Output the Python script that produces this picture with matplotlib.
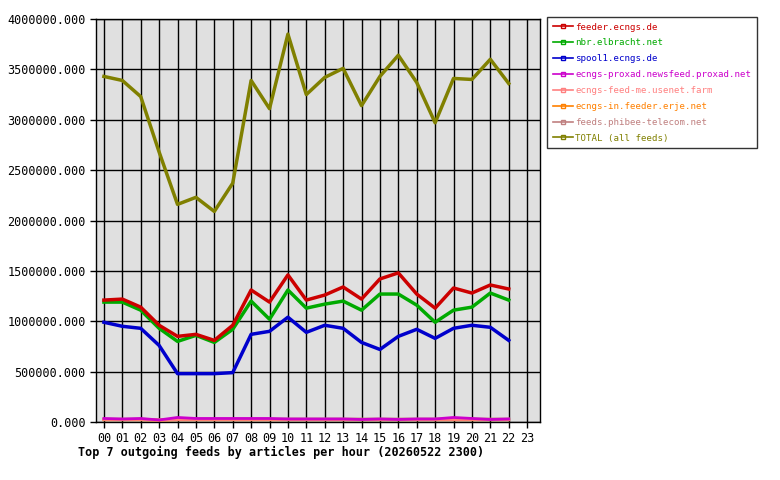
import matplotlib
matplotlib.use("Agg")
import matplotlib.pyplot as plt
from matplotlib.lines import Line2D

hours = [f"{h:02d}" for h in range(24)]
names = ["feeder.ecngs.de", "nbr.elbracht.net", "spool1.ecngs.de",
         "ecngs-proxad.newsfeed.proxad.net", "ecngs-feed-me.usenet.farm",
         "ecngs-in.feeder.erje.net", "feeds.phibee-telecom.net", "TOTAL (all feeds)"]
colors = ["#cc0000", "#00aa00", "#0000cc", "#cc00cc", "#ff8080", "#ff8000", "#c08080", "#808000"]

feeder = [1210000,1220000,1140000,960000,850000,870000,810000,960000,1310000,1190000,1460000,1210000,
          1260000,1340000,1220000,1420000,1480000,1270000,1130000,1330000,1280000,1360000,1320000]
nbr = [1190000,1190000,1110000,930000,800000,860000,790000,920000,1200000,1020000,1310000,1130000,
       1170000,1200000,1110000,1270000,1270000,1160000,990000,1110000,1140000,1280000,1210000]
spool1 = [990000,950000,930000,760000,480000,480000,480000,490000,870000,900000,1040000,890000,
          960000,930000,790000,720000,850000,920000,830000,930000,960000,940000,810000]
proxad = [35000,30000,35000,20000,45000,35000,35000,35000,35000,35000,30000,30000,
          30000,30000,25000,30000,25000,30000,30000,45000,35000,25000,30000]
usenetfarm = [25000,25000,25000,20000,25000,25000,25000,25000,25000,25000,25000,25000,
              25000,25000,25000,25000,25000,25000,25000,25000,25000,25000,25000]
erje = [22000,22000,22000,18000,22000,22000,22000,22000,22000,22000,22000,22000,
        22000,22000,22000,22000,22000,22000,22000,22000,22000,22000,22000]
phibee = [28000,28000,28000,22000,28000,28000,28000,28000,28000,28000,30000,30000,
          30000,30000,30000,30000,30000,30000,30000,30000,30000,30000,30000]
total = [3430000,3390000,3230000,2680000,2160000,2230000,2090000,2370000,3390000,3110000,3850000,3250000,
         3420000,3510000,3140000,3430000,3640000,3370000,2970000,3410000,3400000,3600000,3360000]
series = [feeder, nbr, spool1, proxad, usenetfarm, erje, phibee, total]

plt.rcParams['font.family'] = ['DejaVu Sans Mono']
fig = plt.figure(figsize=(7.8, 4.8), dpi=100)
ax = fig.add_axes([96/780, 58/480, 444/780, 403/480])
ax.set_facecolor("#e0e0e0")
x = list(range(23))
order = [6, 5, 4, 3, 2, 1, 0, 7]
for i in order:
    ax.plot(x, series[i], color=colors[i], lw=2.5 if i in (0, 1, 2, 7) else 2, zorder=3)
ax.set_xlim(-0.43, 23.7)
ax.set_ylim(0, 4000000)
ax.set_xticks(range(24))
ax.set_xticklabels(hours, fontsize=8.5)
yt = list(range(0, 4000001, 500000))
ax.set_yticks(yt)
ax.set_yticklabels([f"{v}.000" if v else "0.000" for v in yt], fontsize=8.5)
ax.grid(True, color="black", lw=1, zorder=1)
ax.set_axisbelow(True)
ax.tick_params(length=4, width=1)
for s in ax.spines.values():
    s.set_linewidth(1)
fig.text(78/780, 1-452/480, "Top 7 outgoing feeds by articles per hour (20260522 2300)",
         fontsize=8.5, fontweight="bold", va="center", ha="left")

handles = [Line2D([0], [0], color=c, lw=1.2, marker="s", markersize=2.5, markerfacecolor="none")
           for c in colors]
leg = fig.legend(handles, names, loc="upper left", bbox_to_anchor=(547/780, 1-17/480),
                 prop={"family": "DejaVu Sans Mono", "size": 6.6},
                 frameon=True, fancybox=False, edgecolor="black",
                 handlelength=2.2, handletextpad=0.3, labelspacing=0.75, borderaxespad=0,
                 borderpad=0.6)
leg.get_frame().set_linewidth(1)
for t, c in zip(leg.get_texts(), colors):
    t.set_color(c)
fig.savefig("out.png", dpi=100, facecolor="white")
